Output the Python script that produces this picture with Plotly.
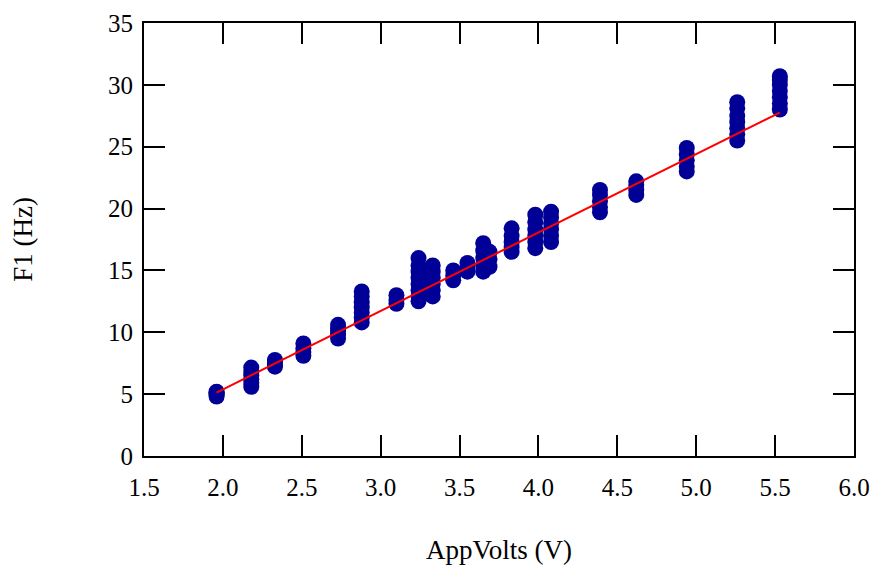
import plotly.graph_objects as go

# Column x positions (AppVolts, V) and the F1 values (Hz) read at each
volts = [1.96, 2.18, 2.33, 2.51, 2.73, 2.88, 3.10, 3.24, 3.33, 3.46, 3.55,
         3.65, 3.69, 3.83, 3.98, 4.08, 4.39, 4.62, 4.94, 5.26, 5.53]
f1_values = [
    [4.8, 4.95, 5.05, 5.15, 5.2],
    [5.6, 5.9, 6.2, 6.5, 6.8, 7.15],
    [7.22, 7.4, 7.6, 7.76],
    [8.1, 8.4, 8.7, 9.1],
    [9.5, 9.8, 10.1, 10.3, 10.6],
    [10.8, 11.2, 11.6, 12.0, 12.4, 12.9, 13.3],
    [12.3, 12.6, 13.0],
    [12.5, 12.9, 13.4, 13.9, 14.4, 14.9, 15.4, 16.0],
    [12.9, 13.4, 13.9, 14.4, 14.9, 15.4],
    [14.2, 14.6, 15.0],
    [14.9, 15.2, 15.6],
    [14.9, 15.4, 16.0, 16.6, 17.2],
    [15.3, 15.9, 16.5],
    [16.5, 16.9, 17.3, 17.8, 18.4],
    [16.8, 17.3, 17.8, 18.3, 18.9, 19.5],
    [17.3, 17.8, 18.3, 18.8, 19.3, 19.75],
    [19.7, 20.1, 20.6, 21.1, 21.5],
    [21.1, 21.5, 21.9, 22.2],
    [23.0, 23.4, 23.9, 24.4, 24.9],
    [25.5, 26.0, 26.5, 27.0, 27.5, 28.1, 28.6],
    [28.0, 28.5, 29.0, 29.5, 30.0, 30.4, 30.7],
]

# Linear fit
fit_slope = 6.34
fit_intercept = -7.30

x_ticks = [1.5, 2.0, 2.5, 3.0, 3.5, 4.0, 4.5, 5.0, 5.5, 6.0]
y_ticks = [0, 5, 10, 15, 20, 25, 30, 35]

xs, ys = [], []
for v, col in zip(volts, f1_values):
    for f in col:
        xs.append(v)
        ys.append(f)

fit_x = [min(volts), max(volts)]
fit_y = [fit_slope * x + fit_intercept for x in fit_x]

FONT = "Liberation Serif"

fig = go.Figure()
fig.add_trace(go.Scatter(
    x=xs, y=ys, mode="markers",
    marker=dict(size=16, color="#000096", line=dict(width=0)),
    showlegend=False, hoverinfo="x+y"))
fig.add_trace(go.Scatter(
    x=fit_x, y=fit_y, mode="lines",
    line=dict(color="#ff0000", width=2),
    showlegend=False))

axis_common = dict(
    showgrid=False, zeroline=False, showline=True, linecolor="black",
    linewidth=2, mirror="allticks", ticks="inside", ticklen=21,
    tickwidth=2, tickcolor="black", automargin=False,
    tickfont=dict(family=FONT, size=25, color="black"),
)

fig.update_layout(
    width=875, height=565,
    margin=dict(l=144, r=21, t=23, b=109),
    paper_bgcolor="white", plot_bgcolor="white",
    font=dict(family=FONT, size=25, color="black"),
    xaxis=dict(range=[1.5, 6.0], tickvals=x_ticks,
               ticktext=[f"{t:.1f}" for t in x_ticks],
               ticklabelstandoff=8,
               title=dict(text="AppVolts (V)", standoff=40,
                          font=dict(family=FONT, size=27)),
               **axis_common),
    yaxis=dict(range=[0, 35], tickvals=y_ticks,
               ticktext=[str(t) for t in y_ticks],
               ticklabelstandoff=4,
               title=dict(text="F1 (Hz)", standoff=68,
                          font=dict(family=FONT, size=27)),
               **axis_common),
)

fig.write_html("out.html")
